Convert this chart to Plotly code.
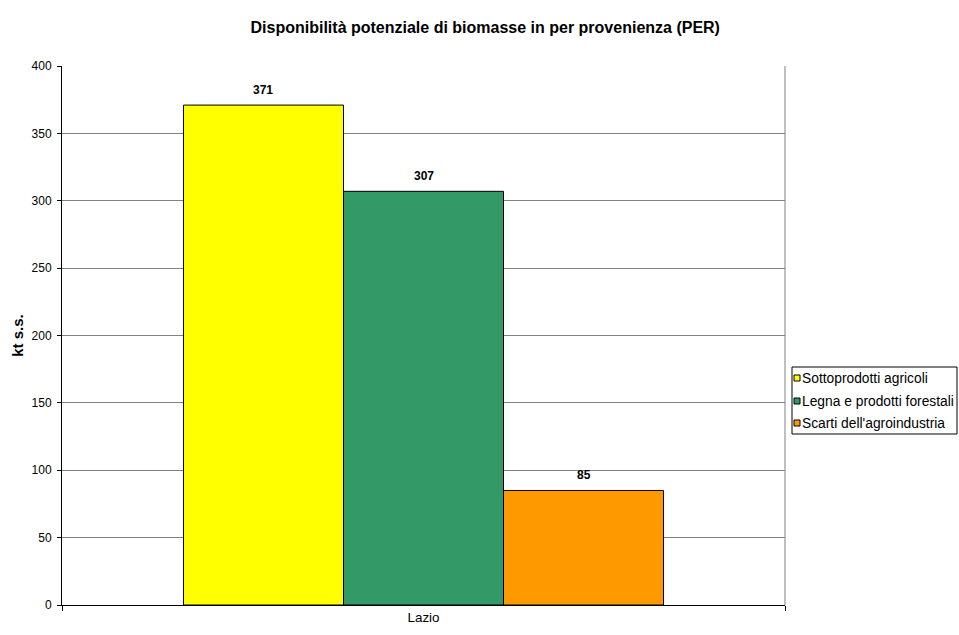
import plotly.graph_objects as go

# Potential biomass availability by origin, Lazio region (kt dry matter)
categories = ["Lazio"]
series_names = ["Sottoprodotti agricoli", "Legna e prodotti forestali", "Scarti dell'agroindustria"]
series_values = [[371], [307], [85]]
series_colors = ["#FFFF00", "#339966", "#FF9900"]
y_ticks = [0, 50, 100, 150, 200, 250, 300, 350, 400]

W, H = 959, 635
M_L, M_R, M_T, M_B = 62, 174, 66, 30
plot_w = W - M_L - M_R
plot_h = H - M_T - M_B
FONT = "Arial, Liberation Sans"


def px_x(x):
    return (x - M_L) / plot_w


def px_y(y):
    return (H - M_B - y) / plot_h


bargap = 0.336
n = len(series_names)
bar_w = (1 - bargap) / n

fig = go.Figure()
for name, vals, col in zip(series_names, series_values, series_colors):
    fig.add_trace(go.Bar(
        x=categories, y=vals, name=name, showlegend=False,
        marker=dict(color=col, line=dict(color="#000000", width=1)),
    ))

# Value labels above each bar
for i, vals in enumerate(series_values):
    for j, v in enumerate(vals):
        xc = j - (1 - bargap) / 2 + bar_w * (i + 0.5)
        fig.add_annotation(x=xc, y=v, xref="x", yref="y", text=f"<b>{v}</b>",
                           showarrow=False, yanchor="bottom", yshift=6,
                           font=dict(family=FONT, size=12, color="#000"))

# Gray frame on the right side of the plot area
fig.add_shape(type="line", xref="x domain", yref="y domain", x0=1, x1=1, y0=0, y1=1,
              line=dict(color="#808080", width=1))

# Compact boxed legend at the right
fig.add_shape(type="rect", xref="paper", yref="paper",
              x0=px_x(792), x1=px_x(957), y0=px_y(434), y1=px_y(367),
              line=dict(color="#000", width=1), fillcolor="white")
row_y = [378, 401, 423]
for name, col, ry in zip(series_names, series_colors, row_y):
    fig.add_shape(type="rect", xref="paper", yref="paper",
                  x0=px_x(794), x1=px_x(800), y0=px_y(ry + 3), y1=px_y(ry - 3),
                  line=dict(color="#000", width=1), fillcolor=col)
    fig.add_annotation(xref="paper", yref="paper", x=px_x(800), y=px_y(ry),
                       text=name, showarrow=False, xanchor="left", yanchor="middle",
                       font=dict(family=FONT, size=13.8, color="#000"))

fig.update_layout(
    width=W, height=H,
    paper_bgcolor="white", plot_bgcolor="white",
    barmode="group", bargap=bargap, bargroupgap=0,
    margin=dict(l=M_L, r=M_R, t=M_T, b=M_B, autoexpand=False),
    font=dict(family=FONT, size=12, color="#000"),
    title=dict(text="<b>Disponibilità potenziale di biomasse in per provenienza (PER)</b>",
               x=0.506, xanchor="center", y=0.957, yanchor="middle",
               font=dict(size=16)),
    showlegend=False,
    xaxis=dict(showline=True, linecolor="#000", linewidth=1, ticks="outside",
               tickson="boundaries", ticklen=5, tickcolor="#000",
               showgrid=False, tickfont=dict(size=13.4)),
    yaxis=dict(range=[0, 400], tickvals=y_ticks, showline=True, linecolor="#000",
               linewidth=1, ticks="outside", ticklen=4, tickcolor="#000",
               ticklabelstandoff=3,
               showgrid=True, gridcolor="#808080", gridwidth=1, zeroline=False,
               tickfont=dict(size=12),
               title=dict(text="<b>kt s.s.</b>", font=dict(size=15), standoff=4)),
)

fig.write_html("out.html")
